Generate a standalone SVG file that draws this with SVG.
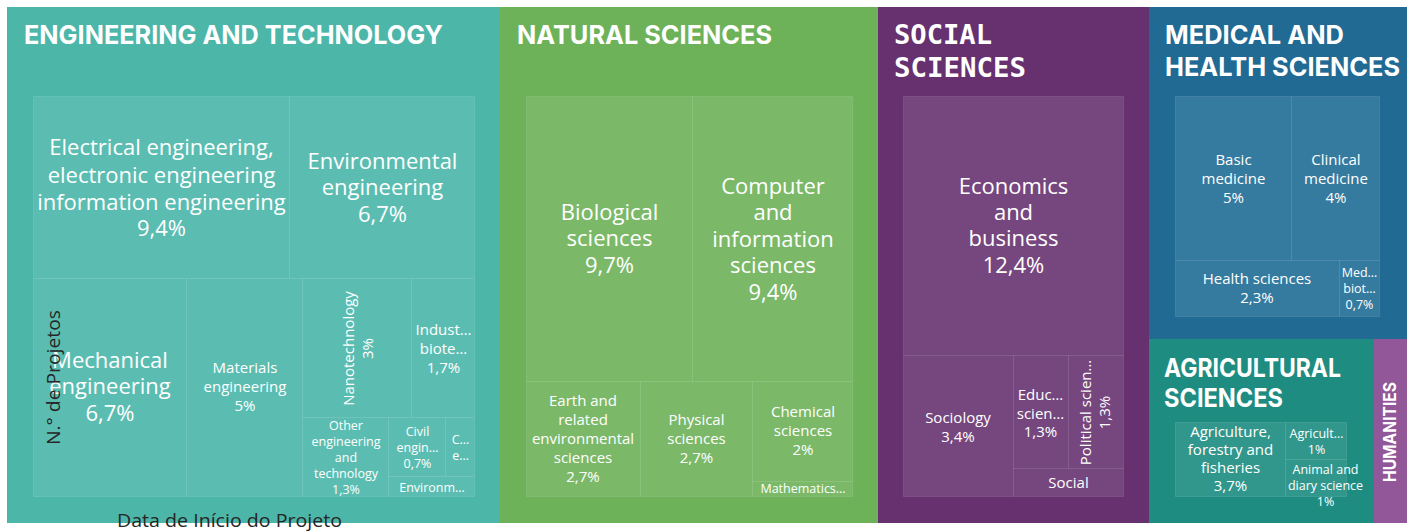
<svg xmlns="http://www.w3.org/2000/svg" width="1412" height="531" viewBox="0 0 1412 531">
<style>
.h{font-family:Inter,"Liberation Sans",sans-serif;font-weight:700;font-size:26px;fill:#fff}
.hm{font-family:"DejaVu Sans Mono","Liberation Mono",monospace;font-weight:700;font-size:27px;fill:#fff}
.l,.m,.s{font-family:"Open Sans","Noto Sans",sans-serif;fill:#fff;text-anchor:middle}
.l{font-size:22px}
.m{font-size:15px}
.s{font-size:12.5px}
.c{stroke:#ffffff;stroke-opacity:0.1;stroke-width:1}
.eng{fill:#5bbdb1}
.nat{fill:#7bb969}
.soc{fill:#76477e}
.med{fill:#357b9f}
.agr{fill:#31978c}
.axis{font-family:"Open Sans","Noto Sans",sans-serif;fill:#262626}
</style>
<rect width="1412" height="531" fill="#ffffff"/>

<g id="engineering">
<rect x="7" y="7" width="493" height="516" fill="#4cb6a9"/>
<text class="h" x="24" y="44" textLength="419" lengthAdjust="spacingAndGlyphs">ENGINEERING AND TECHNOLOGY</text>
<g id="eng-electrical"><rect class="c eng" x="33.5" y="96.5" width="256" height="182"/>
<text class="l"><tspan x="161.5" y="155">Electrical engineering,</tspan><tspan x="161.5" y="182.5">electronic engineering</tspan><tspan x="161.5" y="209.5">information engineering</tspan><tspan x="161.5" y="235.5">9,4%</tspan></text></g>
<g id="eng-environmental"><rect class="c eng" x="289.5" y="96.5" width="185" height="182"/>
<text class="l"><tspan x="382.5" y="168.5">Environmental</tspan><tspan x="382.5" y="195">engineering</tspan><tspan x="382.5" y="221.5">6,7%</tspan></text></g>
<g id="eng-mechanical"><rect class="c eng" x="33.5" y="278.5" width="153" height="218"/>
<text class="l"><tspan x="110" y="367.5">Mechanical</tspan><tspan x="110" y="394">engineering</tspan><tspan x="110" y="420.5">6,7%</tspan></text></g>
<g id="eng-materials"><rect class="c eng" x="186.5" y="278.5" width="116" height="218"/>
<text class="m"><tspan x="245" y="373">Materials</tspan><tspan x="245" y="392">engineering</tspan><tspan x="245" y="411">5%</tspan></text></g>
<g id="eng-nano"><rect class="c eng" x="302.5" y="278.5" width="109" height="139"/>
<text class="m" transform="translate(357.5,348.5) rotate(-90)"><tspan x="0" y="-3.5">Nanotechnology</tspan><tspan x="0" y="15.5">3%</tspan></text></g>
<g id="eng-industrial"><rect class="c eng" x="411.5" y="278.5" width="63" height="139"/>
<text class="m"><tspan x="443.5" y="335">Indust…</tspan><tspan x="443.5" y="354">biote…</tspan><tspan x="443.5" y="373">1,7%</tspan></text></g>
<g id="eng-other"><rect class="c eng" x="302.5" y="417.5" width="86" height="79"/>
<text class="s"><tspan x="346" y="429.5">Other</tspan><tspan x="346" y="445.5">engineering</tspan><tspan x="346" y="461.5">and</tspan><tspan x="346" y="477.5">technology</tspan><tspan x="346" y="493.5">1,3%</tspan></text></g>
<g id="eng-civil"><rect class="c eng" x="388.5" y="417.5" width="57" height="59"/>
<text class="s"><tspan x="417.5" y="436">Civil</tspan><tspan x="417.5" y="452">engin…</tspan><tspan x="417.5" y="468">0,7%</tspan></text></g>
<g id="eng-c"><rect class="c eng" x="445.5" y="417.5" width="29" height="59"/>
<text class="s"><tspan x="460.5" y="443.5">C…</tspan><tspan x="460.5" y="459.5">e…</tspan></text></g>
<g id="eng-environm"><rect class="c eng" x="388.5" y="476.5" width="86" height="20"/>
<text class="s" x="432" y="491.5">Environm…</text></g>
</g>

<g id="natural">
<rect x="500" y="7" width="378" height="516" fill="#6db258"/>
<text class="h" x="517" y="44" textLength="255" lengthAdjust="spacingAndGlyphs">NATURAL SCIENCES</text>
<g id="nat-bio"><rect class="c nat" x="526.5" y="96.5" width="166" height="285"/>
<text class="l"><tspan x="609.5" y="220">Biological</tspan><tspan x="609.5" y="246.3">sciences</tspan><tspan x="609.5" y="272.6">9,7%</tspan></text></g>
<g id="nat-computer"><rect class="c nat" x="692.5" y="96.5" width="160" height="285"/>
<text class="l"><tspan x="773" y="193.5">Computer</tspan><tspan x="773" y="220">and</tspan><tspan x="773" y="246.5">information</tspan><tspan x="773" y="273">sciences</tspan><tspan x="773" y="299.5">9,4%</tspan></text></g>
<g id="nat-earth"><rect class="c nat" x="526.5" y="381.5" width="114" height="115"/>
<text class="m"><tspan x="583" y="406">Earth and</tspan><tspan x="583" y="425">related</tspan><tspan x="583" y="444">environmental</tspan><tspan x="583" y="463">sciences</tspan><tspan x="583" y="482">2,7%</tspan></text></g>
<g id="nat-physical"><rect class="c nat" x="640.5" y="381.5" width="112" height="115"/>
<text class="m"><tspan x="696.5" y="424.5">Physical</tspan><tspan x="696.5" y="443.5">sciences</tspan><tspan x="696.5" y="462.5">2,7%</tspan></text></g>
<g id="nat-chemical"><rect class="c nat" x="752.5" y="381.5" width="100" height="100"/>
<text class="m"><tspan x="803" y="417">Chemical</tspan><tspan x="803" y="436">sciences</tspan><tspan x="803" y="455">2%</tspan></text></g>
<g id="nat-math"><rect class="c nat" x="752.5" y="481.5" width="100" height="15"/>
<text class="s" x="803" y="493.3">Mathematics…</text></g>
</g>

<g id="social">
<rect x="878" y="7" width="271" height="516" fill="#67306f"/>
<text class="hm"><tspan x="894" y="44" textLength="98" lengthAdjust="spacingAndGlyphs">SOCIAL</tspan><tspan x="894" y="76.5" textLength="132" lengthAdjust="spacingAndGlyphs">SCIENCES</tspan></text>
<g id="soc-economics"><rect class="c soc" x="903.5" y="96.5" width="220" height="259"/>
<text class="l"><tspan x="1013.5" y="193.5">Economics</tspan><tspan x="1013.5" y="220">and</tspan><tspan x="1013.5" y="246.3">business</tspan><tspan x="1013.5" y="272.6">12,4%</tspan></text></g>
<g id="soc-sociology"><rect class="c soc" x="903.5" y="355.5" width="110" height="141"/>
<text class="m"><tspan x="958" y="422.5">Sociology</tspan><tspan x="958" y="441.5">3,4%</tspan></text></g>
<g id="soc-education"><rect class="c soc" x="1013.5" y="355.5" width="55" height="113"/>
<text class="m"><tspan x="1040.5" y="400">Educ…</tspan><tspan x="1040.5" y="418.5">scien…</tspan><tspan x="1040.5" y="437">1,3%</tspan></text></g>
<g id="soc-political"><rect class="c soc" x="1068.5" y="355.5" width="55" height="113"/>
<text class="m" transform="translate(1100,412.5) rotate(-90)"><tspan x="0" y="-9">Political scien…</tspan><tspan x="0" y="10">1,3%</tspan></text></g>
<g id="soc-social"><rect class="c soc" x="1013.5" y="468.5" width="110" height="28"/>
<text class="m" x="1068.5" y="487.7">Social</text></g>
</g>

<g id="medical">
<rect x="1149" y="7" width="258" height="332" fill="#216a93"/>
<text class="h"><tspan x="1165" y="44" textLength="179" lengthAdjust="spacingAndGlyphs">MEDICAL AND</tspan><tspan x="1165" y="76" textLength="235" lengthAdjust="spacingAndGlyphs">HEALTH SCIENCES</tspan></text>
<g id="med-basic"><rect class="c med" x="1175.5" y="96.5" width="116" height="164"/>
<text class="m"><tspan x="1233.5" y="165">Basic</tspan><tspan x="1233.5" y="184">medicine</tspan><tspan x="1233.5" y="203">5%</tspan></text></g>
<g id="med-clinical"><rect class="c med" x="1291.5" y="96.5" width="88" height="164"/>
<text class="m"><tspan x="1336" y="165">Clinical</tspan><tspan x="1336" y="184">medicine</tspan><tspan x="1336" y="203">4%</tspan></text></g>
<g id="med-health"><rect class="c med" x="1175.5" y="260.5" width="164" height="56"/>
<text class="m"><tspan x="1257" y="284">Health sciences</tspan><tspan x="1257" y="303">2,3%</tspan></text></g>
<g id="med-biotech"><rect class="c med" x="1339.5" y="260.5" width="40" height="56"/>
<text class="s"><tspan x="1359.5" y="276.5">Med…</tspan><tspan x="1359.5" y="292.5">biot…</tspan><tspan x="1359.5" y="309">0,7%</tspan></text></g>
</g>

<g id="agricultural">
<rect x="1149" y="339" width="225" height="184" fill="#1e8c80"/>
<text class="h"><tspan x="1164" y="377" textLength="177" lengthAdjust="spacingAndGlyphs">AGRICULTURAL</tspan><tspan x="1164" y="406.5" textLength="119" lengthAdjust="spacingAndGlyphs">SCIENCES</tspan></text>
<g id="agr-agriculture"><rect class="c agr" x="1175.5" y="422.5" width="110" height="74"/>
<text class="m"><tspan x="1230.5" y="436.6">Agriculture,</tspan><tspan x="1230.5" y="454.8">forestry and</tspan><tspan x="1230.5" y="473">fisheries</tspan><tspan x="1230.5" y="491.2">3,7%</tspan></text></g>
<g id="agr-agricult"><rect class="c agr" x="1285.5" y="422.5" width="61" height="37"/>
<text class="s"><tspan x="1316.5" y="438.3">Agricult…</tspan><tspan x="1316.5" y="453.5">1%</tspan></text></g>
<g id="agr-animal"><rect class="c agr" x="1285.5" y="459.5" width="61" height="37"/>
<text class="s"><tspan x="1325.5" y="473.5">Animal and</tspan><tspan x="1325.5" y="489.5">diary science</tspan><tspan x="1325.5" y="505.5">1%</tspan></text></g>
</g>

<g id="humanities">
<rect x="1374" y="339" width="33" height="184" fill="#925799"/>
<text class="h" text-anchor="middle" transform="translate(1396,432) rotate(-90)" x="0" y="0" textLength="100" lengthAdjust="spacingAndGlyphs" style="font-size:17px">HUMANITIES</text>
</g>

<g id="connectors"></g>

<g id="axes">
<text class="axis" font-size="19" text-anchor="middle" transform="translate(60,377.5) rotate(-90)" x="0" y="0" textLength="135" lengthAdjust="spacingAndGlyphs">N.° de Projetos</text>
<text class="axis" font-size="18" x="117" y="527" textLength="225" lengthAdjust="spacingAndGlyphs">Data de Início do Projeto</text>
</g>
</svg>
